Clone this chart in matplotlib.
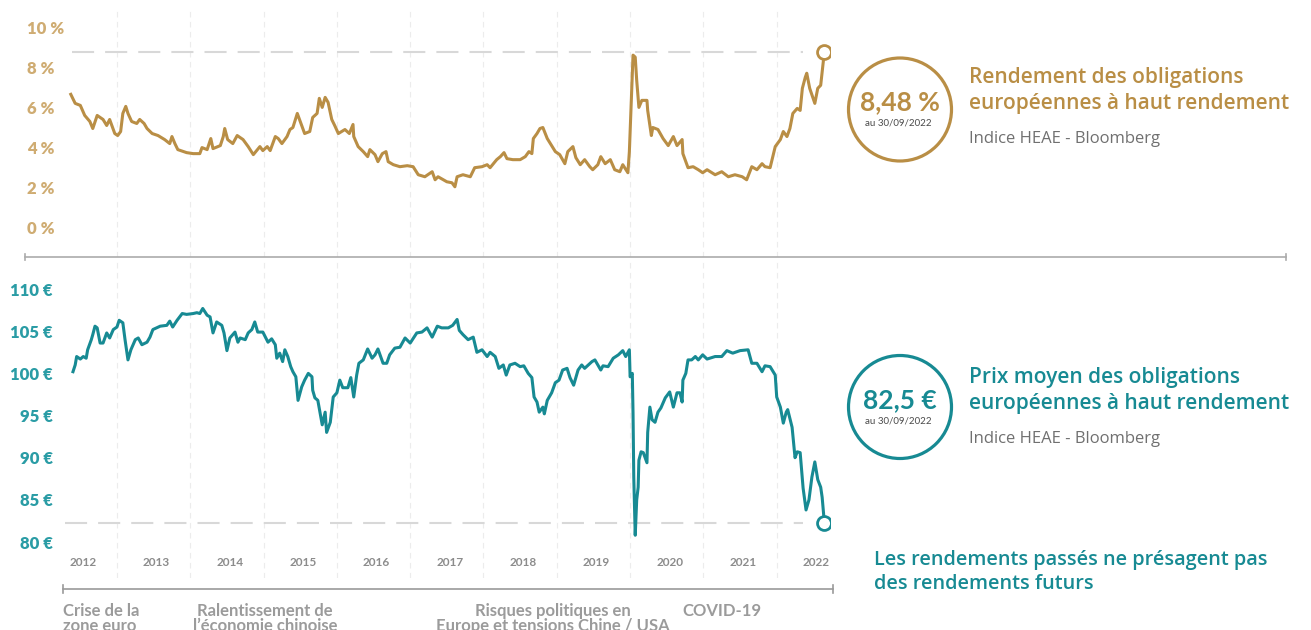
import matplotlib
matplotlib.use("Agg")
import matplotlib.pyplot as plt
from matplotlib.patches import Circle
from matplotlib.lines import Line2D
from matplotlib.transforms import blended_transform_factory

plt.rcParams['font.family'] = ['Lato', 'DejaVu Sans']
BLOCK_FONT = ['Open Sans', 'DejaVu Sans']

GOLD = '#b98e45'
GOLD_LIGHT = '#cfac72'
TEAL = '#178a93'
TEAL_LIGHT = '#2a9ca5'
GREY = '#8c8c8c'

# rendement (%), dates en annees decimales
yield_dates = [2012.37, 2012.43, 2012.50, 2012.56, 2012.63, 2012.67, 2012.73, 2012.81, 2012.86, 2012.90,
               2012.97, 2013.01, 2013.05, 2013.08, 2013.12, 2013.15, 2013.20, 2013.27, 2013.31, 2013.37,
               2013.41, 2013.48, 2013.56, 2013.65, 2013.72, 2013.75, 2013.79, 2013.83, 2013.95, 2014.04,
               2014.13, 2014.16, 2014.23, 2014.28, 2014.31, 2014.41, 2014.45, 2014.47, 2014.51, 2014.58,
               2014.64, 2014.72, 2014.79, 2014.86, 2014.95, 2014.99, 2015.05, 2015.09, 2015.16, 2015.20,
               2015.25, 2015.32, 2015.36, 2015.40, 2015.46, 2015.50, 2015.56, 2015.63, 2015.67, 2015.73,
               2015.76, 2015.80, 2015.84, 2015.88, 2015.93, 2015.97, 2016.02, 2016.11, 2016.17, 2016.22,
               2016.23, 2016.29, 2016.36, 2016.42, 2016.45, 2016.52, 2016.56, 2016.62, 2016.67, 2016.70,
               2016.77, 2016.86, 2016.96, 2017.04, 2017.11, 2017.20, 2017.30, 2017.34, 2017.38, 2017.50,
               2017.57, 2017.61, 2017.64, 2017.72, 2017.82, 2017.88, 2017.98, 2018.05, 2018.09, 2018.18,
               2018.23, 2018.28, 2018.32, 2018.40, 2018.50, 2018.57, 2018.62, 2018.66, 2018.68, 2018.73,
               2018.77, 2018.81, 2018.87, 2018.93, 2018.98, 2019.04, 2019.11, 2019.15, 2019.22, 2019.26,
               2019.32, 2019.38, 2019.45, 2019.49, 2019.56, 2019.60, 2019.66, 2019.73, 2019.79, 2019.86,
               2019.90, 2019.97, 2019.99, 2020.04, 2020.07, 2020.09, 2020.12, 2020.16, 2020.23, 2020.24,
               2020.29, 2020.31, 2020.38, 2020.45, 2020.52, 2020.59, 2020.64, 2020.71, 2020.72, 2020.79,
               2020.86, 2020.93, 2020.99, 2021.05, 2021.16, 2021.25, 2021.34, 2021.43, 2021.53, 2021.59,
               2021.66, 2021.73, 2021.80, 2021.84, 2021.91, 2021.98, 2022.05, 2022.09, 2022.14, 2022.18,
               2022.22, 2022.28, 2022.32, 2022.35, 2022.39, 2022.41, 2022.45, 2022.52, 2022.56, 2022.60,
               2022.65]
yield_values = [6.65, 6.2, 6.1, 5.6, 5.3, 4.95, 5.6, 5.4, 5.1, 5.4,
                4.7, 4.6, 4.8, 5.7, 6.05, 5.7, 5.3, 5.2, 5.4, 5.2,
                4.95, 4.7, 4.6, 4.4, 4.2, 4.55, 4.2, 3.9, 3.75, 3.7,
                3.7, 4.0, 3.9, 4.45, 3.95, 4.1, 4.55, 4.95, 4.4, 4.2,
                4.6, 4.4, 4.05, 3.65, 4.05, 3.85, 4.05, 3.85, 4.55, 4.45,
                4.2, 4.55, 4.9, 5.0, 5.7, 5.3, 4.7, 4.8, 5.5, 5.7,
                6.45, 6.0, 6.5, 6.25, 5.4, 5.1, 4.7, 4.9, 4.7, 5.15,
                4.55, 4.05, 3.8, 3.55, 3.9, 3.65, 3.3, 3.7, 3.8, 3.3,
                3.15, 3.05, 3.1, 3.05, 2.65, 2.55, 2.8, 2.4, 2.55, 2.3,
                2.25, 2.05, 2.55, 2.65, 2.55, 3.0, 3.05, 3.15, 3.0, 3.4,
                3.55, 3.75, 3.45, 3.4, 3.4, 3.55, 3.8, 3.7, 4.45, 4.7,
                4.95, 5.0, 4.45, 4.1, 3.8, 3.65, 3.2, 3.8, 4.05, 3.5,
                3.15, 3.4, 3.05, 2.9, 3.15, 3.55, 3.2, 3.4, 2.9, 2.8,
                3.15, 2.75, 3.8, 8.6, 8.5, 7.35, 6.0, 6.35, 6.35, 5.85,
                4.6, 5.0, 4.9, 4.45, 4.1, 4.55, 4.1, 4.4, 3.7, 3.0,
                3.05, 2.9, 2.75, 2.9, 2.65, 2.8, 2.55, 2.65, 2.55, 2.4,
                3.05, 2.9, 3.2, 3.05, 3.0, 4.05, 4.4, 4.8, 4.55, 4.95,
                5.7, 5.95, 5.85, 6.95, 7.5, 7.7, 6.95, 6.2, 6.95, 7.1,
                8.76]

# prix moyen (EUR)
price_dates = [2012.40, 2012.43, 2012.45, 2012.50, 2012.54, 2012.58, 2012.60, 2012.65, 2012.67, 2012.70,
               2012.73, 2012.77, 2012.81, 2012.86, 2012.90, 2012.95, 2013.00, 2013.03, 2013.08, 2013.11,
               2013.15, 2013.19, 2013.25, 2013.29, 2013.34, 2013.41, 2013.45, 2013.49, 2013.59, 2013.68,
               2013.72, 2013.76, 2013.82, 2013.89, 2013.95, 2014.04, 2014.09, 2014.13, 2014.17, 2014.23,
               2014.27, 2014.31, 2014.36, 2014.43, 2014.46, 2014.50, 2014.54, 2014.61, 2014.65, 2014.68,
               2014.75, 2014.79, 2014.84, 2014.88, 2014.92, 2014.99, 2015.06, 2015.11, 2015.16, 2015.18,
               2015.22, 2015.26, 2015.29, 2015.33, 2015.37, 2015.40, 2015.44, 2015.47, 2015.52, 2015.56,
               2015.61, 2015.66, 2015.67, 2015.70, 2015.74, 2015.80, 2015.84, 2015.86, 2015.91, 2015.95,
               2016.00, 2016.04, 2016.08, 2016.15, 2016.19, 2016.23, 2016.27, 2016.30, 2016.36, 2016.42,
               2016.48, 2016.52, 2016.56, 2016.63, 2016.68, 2016.72, 2016.79, 2016.86, 2016.93, 2017.00,
               2017.09, 2017.16, 2017.23, 2017.30, 2017.37, 2017.43, 2017.52, 2017.58, 2017.64, 2017.67,
               2017.72, 2017.79, 2017.86, 2017.91, 2017.98, 2018.05, 2018.09, 2018.16, 2018.21, 2018.27,
               2018.31, 2018.36, 2018.43, 2018.50, 2018.55, 2018.61, 2018.66, 2018.69, 2018.73, 2018.76,
               2018.81, 2018.83, 2018.87, 2018.93, 2018.98, 2019.03, 2019.08, 2019.14, 2019.18, 2019.23,
               2019.29, 2019.34, 2019.38, 2019.43, 2019.48, 2019.52, 2019.56, 2019.60, 2019.63, 2019.70,
               2019.77, 2019.84, 2019.90, 2019.94, 2019.99, 2020.00, 2020.03, 2020.04, 2020.05, 2020.07,
               2020.09, 2020.11, 2020.12, 2020.15, 2020.18, 2020.23, 2020.24, 2020.27, 2020.30, 2020.34,
               2020.38, 2020.42, 2020.48, 2020.54, 2020.59, 2020.64, 2020.68, 2020.71, 2020.72, 2020.76,
               2020.79, 2020.84, 2020.89, 2020.93, 2020.99, 2021.05, 2021.16, 2021.25, 2021.32, 2021.40,
               2021.50, 2021.61, 2021.66, 2021.73, 2021.80, 2021.84, 2021.91, 2021.98, 2022.00, 2022.05,
               2022.09, 2022.13, 2022.15, 2022.21, 2022.25, 2022.28, 2022.32, 2022.36, 2022.40, 2022.44,
               2022.48, 2022.52, 2022.56, 2022.60, 2022.62, 2022.65]
price_values = [100.2, 101.0, 102.0, 101.7, 102.0, 101.8, 102.8, 104.0, 104.6, 105.6,
                105.4, 103.6, 103.6, 104.8, 104.2, 105.2, 105.5, 106.3, 106.0, 104.0,
                101.6, 102.8, 104.0, 104.2, 103.4, 103.7, 104.3, 105.2, 105.6, 105.7,
                106.2, 105.5, 106.3, 107.1, 107.0, 107.1, 107.2, 107.1, 107.7, 106.9,
                106.7, 104.8, 106.1, 105.7, 104.8, 102.7, 104.2, 104.9, 103.7, 104.2,
                104.0, 104.8, 105.2, 106.1, 104.9, 104.9, 103.7, 104.1, 103.4, 101.8,
                102.4, 101.4, 102.8, 102.0, 100.8, 100.2, 99.6, 96.8, 98.4, 99.2,
                100.0, 99.6, 98.0, 97.1, 96.8, 93.9, 95.4, 93.0, 94.2, 97.2,
                97.7, 99.2, 98.3, 98.3, 99.5, 97.2, 99.8, 101.2, 101.6, 102.9,
                101.8, 102.2, 102.9, 101.2, 101.2, 102.2, 103.0, 103.1, 104.2, 103.6,
                104.8, 104.9, 105.4, 104.3, 105.6, 105.4, 105.4, 105.7, 106.4, 105.1,
                104.6, 104.0, 104.3, 102.5, 102.8, 102.0, 102.5, 102.0, 100.6, 101.0,
                99.8, 101.0, 101.2, 100.8, 100.9, 100.0, 99.5, 97.2, 96.6, 95.4,
                96.0, 95.2, 96.8, 97.7, 98.9, 99.2, 100.4, 100.6, 99.5, 98.6,
                100.4, 101.0, 100.6, 101.0, 101.4, 101.6, 101.0, 100.4, 100.9, 100.8,
                101.8, 102.2, 102.7, 102.0, 102.8, 99.6, 100.0, 95.3, 87.7, 80.8,
                85.0, 86.5, 89.7, 90.7, 90.6, 89.4, 93.0, 96.0, 94.5, 94.2,
                95.4, 95.9, 97.1, 97.8, 96.0, 97.7, 97.7, 96.6, 99.2, 100.0,
                101.6, 101.6, 102.0, 101.6, 102.2, 101.7, 102.0, 102.0, 102.7, 102.4,
                102.7, 102.8, 101.2, 101.2, 100.2, 100.9, 100.8, 99.8, 97.2, 96.0,
                94.1, 95.4, 95.7, 93.6, 90.0, 90.7, 90.6, 86.4, 83.8, 85.0,
                87.7, 89.5, 87.4, 86.5, 85.3, 82.3]

years = [2012, 2013, 2014, 2015, 2016, 2017, 2018, 2019, 2020, 2021, 2022]
grid_years = years[1:]

yield_ticks = [0, 2, 4, 6, 8, 10]
yield_labels = ['0 %', '2 %', '4 %', '6 %', '8 %', '10 %']
price_ticks = [80, 85, 90, 95, 100, 105, 110]
price_labels = ['80 €', '85 €', '90 €', '95 €', '100 €', '105 €', '110 €']

events = [("Crise de la\nzone euro", 63, 'left'),
          ("Ralentissement de\nl’économie chinoise", 265, 'center'),
          ("Risques politiques en\nEurope et tensions Chine / USA", 553, 'center'),
          ("COVID-19", 682, 'left')]

W, H = 1311, 630
fig = plt.figure(figsize=(W / 100, H / 100), dpi=100)


def fx(x):
    return x / W


def fy(y):
    return 1 - y / H


XLIM = (2012.291, 2022.727)
ax1 = fig.add_axes([fx(65), fy(257), 765 / W, (257 - 10) / H])
ax2 = fig.add_axes([fx(65), fy(578), 765 / W, (578 - 260) / H])

for ax in (ax1, ax2):
    ax.set_xlim(*XLIM)
    for s in ax.spines.values():
        s.set_visible(False)
    ax.set_xticks([])
    for g in grid_years:
        ax.axvline(g, color='#ececec', lw=0.8, ls=(0, (5, 4)), zorder=0)

# haut : rendement
ax1.set_ylim(-1.443, 10.846)
dash = (0, (10.6, 5.3))
ax1.hlines(yield_values[-1], 2012.39, 2022.36, color='#d8d8d8', lw=1.5, ls=dash, zorder=1)
ax1.plot(yield_dates, yield_values, color=GOLD, lw=2.2, solid_joinstyle='round', zorder=3)
ax1.plot(yield_dates[-1], yield_values[-1], 'o', ms=10, mfc='white', mec=GOLD, mew=2, zorder=4)
ax1.set_yticks(yield_ticks, yield_labels, ha='left', color=GOLD_LIGHT, fontsize=12, fontweight='heavy')
ax1.tick_params(axis='y', length=0, pad=38 * 0.72)

# bas : prix
ax2.set_ylim(75.73, 113.45)
ax2.hlines(price_values[-1], 2012.29, 2022.36, color='#d8d8d8', lw=1.5, ls=dash, zorder=1)
ax2.plot(price_dates, price_values, color=TEAL, lw=2.2, solid_joinstyle='round', zorder=3)
ax2.plot(price_dates[-1], price_values[-1], 'o', ms=10, mfc='white', mec=TEAL, mew=2, zorder=4)
ax2.set_yticks(price_ticks, price_labels, color=TEAL_LIGHT, fontsize=12, fontweight='heavy')
ax2.tick_params(axis='y', length=0, pad=12 * 0.72)

trans = blended_transform_factory(ax2.transData, ax2.transAxes)
for y in years:
    ax2.text(y + 0.54, (578 - 562) / 318, str(y), transform=trans, ha='center', va='center',
             fontsize=8.5, fontweight='bold', color=GREY)

# lignes de separation
sep_color = '#ababab'
fig.add_artist(Line2D([fx(25), fx(1286)], [fy(257), fy(257)], color=sep_color, lw=1.2))
fig.add_artist(Line2D([fx(1286), fx(1286)], [fy(254), fy(260)], color=sep_color, lw=1.2))
fig.add_artist(Line2D([fx(25), fx(25)], [fy(254), fy(260)], color=sep_color, lw=1.2))
fig.add_artist(Line2D([fx(63), fx(833)], [fy(589), fy(589)], color='#9a9a9a', lw=1.2))
fig.add_artist(Line2D([fx(63), fx(63)], [fy(585), fy(593)], color='#9a9a9a', lw=1.2))
fig.add_artist(Line2D([fx(833), fx(833)], [fy(585), fy(593)], color='#9a9a9a', lw=1.2))

for label, x, ha in events:
    fig.text(fx(x), fy(603), label, ha=ha, va='top', fontsize=12, color='#9b9b9b',
             fontweight='bold', linespacing=0.95, multialignment='center' if ha == 'center' else 'left')

# encarts de droite
blocks = [(109.5, "8,48 %", GOLD, 77, ["Rendement des obligations", "européennes à haut rendement"]),
          (407, "82,5 €", TEAL, 377, ["Prix moyen des obligations", "européennes à haut rendement"])]
for cy, big, col, ty, lines in blocks:
    fig.add_artist(Circle((900 / 100, (H - cy) / 100), 0.515, transform=fig.dpi_scale_trans,
                          fill=False, edgecolor=col, lw=2.3))
    fig.text(fx(900), fy(cy - 7), big, ha='center', va='center', fontsize=19, fontweight='bold', color=col)
    fig.text(fx(898), fy(cy + 13.5), "au 30/09/2022", ha='center', va='center', fontsize=7, color='#4a4a4a')
    fig.text(fx(969), fy(ty), lines[0], ha='left', va='center', fontsize=15, fontweight='semibold',
             color=col, family=BLOCK_FONT)
    fig.text(fx(969), fy(ty + 27), lines[1], ha='left', va='center', fontsize=15, fontweight='semibold',
             color=col, family=BLOCK_FONT)
    fig.text(fx(969), fy(ty + 62), "Indice HEAE - Bloomberg", ha='left', va='center', fontsize=12,
             color='#707070', family=BLOCK_FONT)

fig.text(fx(874), fy(560), "Les rendements passés ne présagent pas", ha='left', va='center',
         fontsize=14.3, fontweight='semibold', color=TEAL, family=BLOCK_FONT)
fig.text(fx(874), fy(584), "des rendements futurs", ha='left', va='center',
         fontsize=14.3, fontweight='semibold', color=TEAL, family=BLOCK_FONT)

fig.savefig('out.png', dpi=100, facecolor='white')
